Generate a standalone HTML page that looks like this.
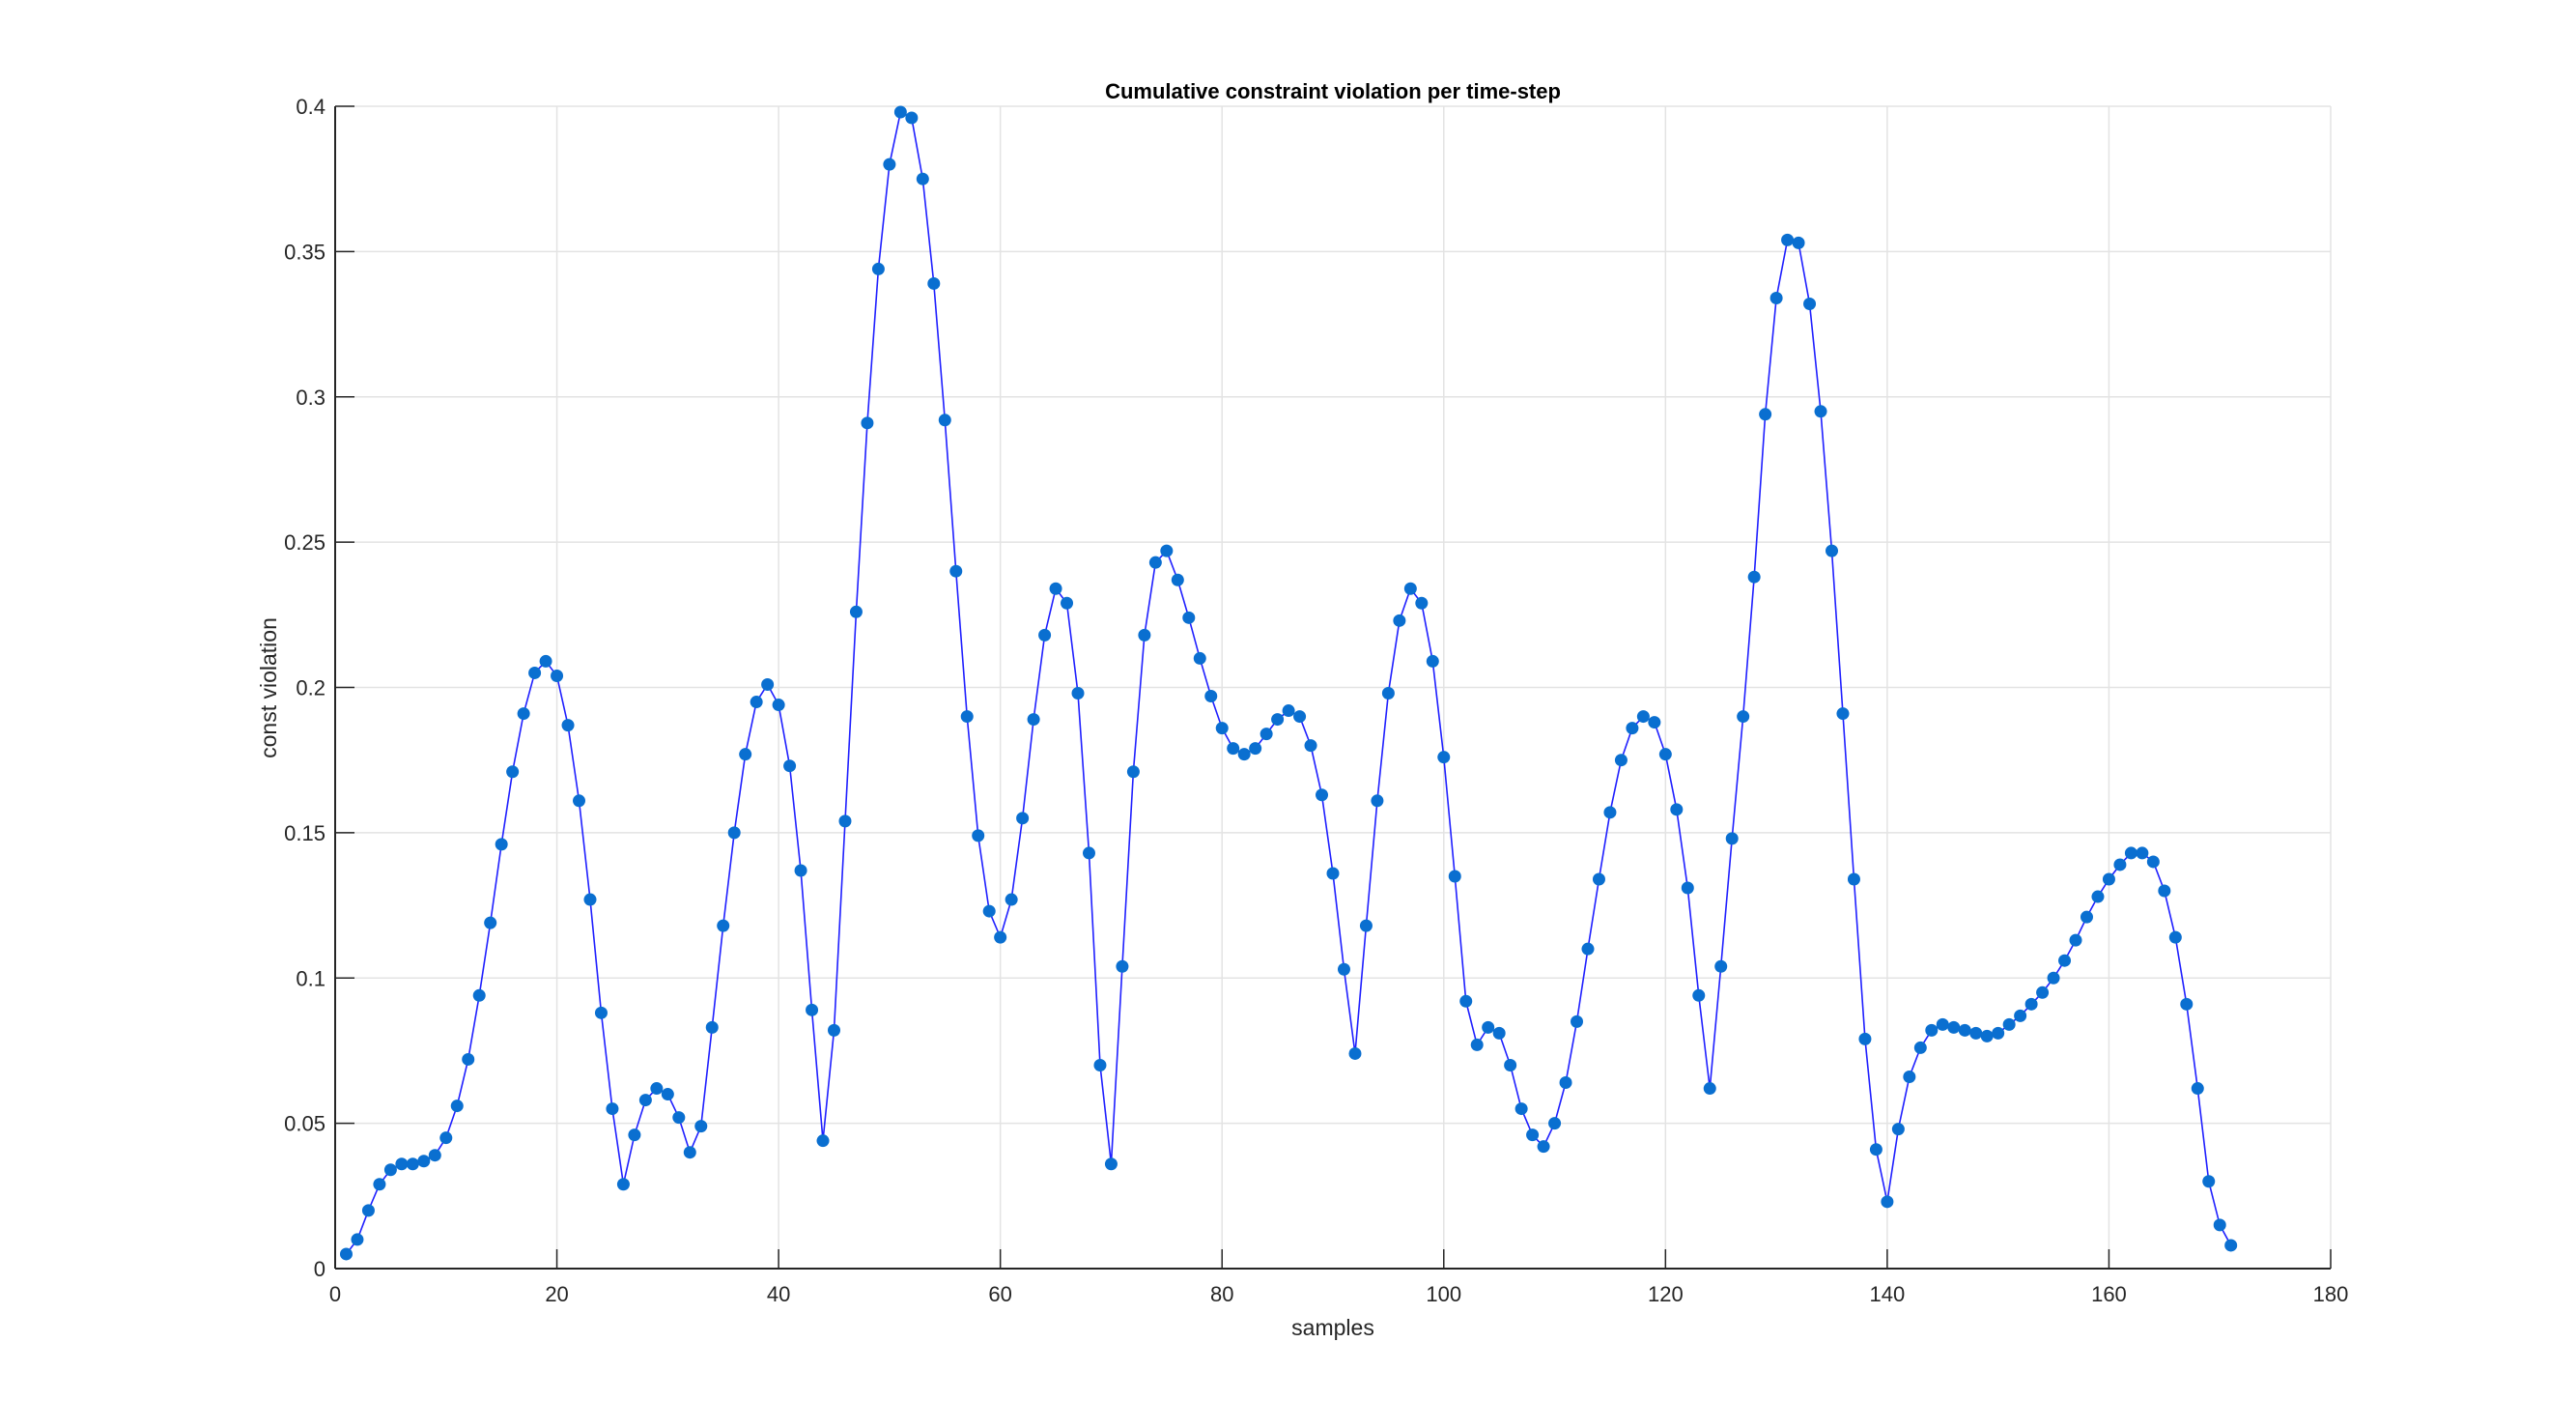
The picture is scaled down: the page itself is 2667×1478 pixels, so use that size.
<!DOCTYPE html>
<html><head><meta charset="utf-8"><style>
html,body{margin:0;padding:0;background:#fff;}
svg{display:block;font-family:"Liberation Sans",Arial,sans-serif;}
</style></head><body>
<svg id="chart" width="2667" height="1478" viewBox="0 0 2667 1478" xmlns="http://www.w3.org/2000/svg">
<rect width="2667" height="1478" fill="#fff"/>
<g id="grid"></g>
<g id="axes"></g>
<g id="series"></g>
<text x="1380" y="102" text-anchor="middle" font-size="22" font-weight="bold" fill="#000">Cumulative constraint violation per time-step</text>
<text x="1380" y="1382" text-anchor="middle" font-size="23" fill="#262626">samples</text>
<text transform="translate(286,712) rotate(-90)" text-anchor="middle" font-size="23" fill="#262626">const violation</text>
</svg>
<script>
const yValues=[0.005,0.010,0.020,0.029,0.034,0.036,0.036,0.037,0.039,0.045,0.056,0.072,0.094,0.119,0.146,0.171,0.191,0.205,0.209,0.204,0.187,0.161,0.127,0.088,0.055,0.029,0.046,0.058,0.062,0.060,0.052,0.040,0.049,0.083,0.118,0.150,0.177,0.195,0.201,0.194,0.173,0.137,0.089,0.044,0.082,0.154,0.226,0.291,0.344,0.380,0.398,0.396,0.375,0.339,0.292,0.240,0.190,0.149,0.123,0.114,0.127,0.155,0.189,0.218,0.234,0.229,0.198,0.143,0.070,0.036,0.104,0.171,0.218,0.243,0.247,0.237,0.224,0.210,0.197,0.186,0.179,0.177,0.179,0.184,0.189,0.192,0.190,0.180,0.163,0.136,0.103,0.074,0.118,0.161,0.198,0.223,0.234,0.229,0.209,0.176,0.135,0.092,0.077,0.083,0.081,0.070,0.055,0.046,0.042,0.050,0.064,0.085,0.110,0.134,0.157,0.175,0.186,0.190,0.188,0.177,0.158,0.131,0.094,0.062,0.104,0.148,0.190,0.238,0.294,0.334,0.354,0.353,0.332,0.295,0.247,0.191,0.134,0.079,0.041,0.023,0.048,0.066,0.076,0.082,0.084,0.083,0.082,0.081,0.080,0.081,0.084,0.087,0.091,0.095,0.100,0.106,0.113,0.121,0.128,0.134,0.139,0.143,0.143,0.140,0.130,0.114,0.091,0.062,0.030,0.015,0.008];
const xTicks=[0,20,40,60,80,100,120,140,160,180];
const yTicks=[0,0.05,0.1,0.15,0.2,0.25,0.3,0.35,0.4];
const yTickLabels=["0","0.05","0.1","0.15","0.2","0.25","0.3","0.35","0.4"];

const L=347,R=2413,T=110,B=1313;
const X=v=>L+(v-0)/(180-0)*(R-L);
const Y=v=>B-(v-0)/(0.4-0)*(B-T);
const NS="http://www.w3.org/2000/svg";
function mk(tag,attrs,parent){const e=document.createElementNS(NS,tag);for(const k in attrs)e.setAttribute(k,attrs[k]);parent.appendChild(e);return e;}
const grid=document.getElementById('grid'),axes=document.getElementById('axes'),series=document.getElementById('series');
xTicks.forEach(t=>{
  const g=mk('line',{x1:X(t),x2:X(t),y1:T,y2:B,stroke:'#e3e3e3','stroke-width':1.5},grid);
  
  
  const tk=mk('line',{x1:X(t),x2:X(t),y1:B,y2:B-20,stroke:'#262626','stroke-width':1.5},axes);
  
  
  const tx=mk('text',{x:X(t),y:B+34,'text-anchor':'middle','font-size':22,fill:'#262626'},axes);
  tx.textContent=String(t);
  
  
});
yTicks.forEach((t,i)=>{
  const g=mk('line',{x1:L,x2:R,y1:Y(t),y2:Y(t),stroke:'#e3e3e3','stroke-width':1.5},grid);
  
  
  const tk=mk('line',{x1:L,x2:L+20,y1:Y(t),y2:Y(t),stroke:'#262626','stroke-width':1.5},axes);
  
  
  const tx=mk('text',{x:L-10,y:Y(t)+8,'text-anchor':'end','font-size':22,fill:'#262626'},axes);
  tx.textContent=yTickLabels[i];
  
  
});
const xa=mk('line',{x1:L,x2:R,y1:B,y2:B,stroke:'#262626','stroke-width':2},axes);


const ya=mk('line',{x1:L,x2:L,y1:T,y2:B,stroke:'#262626','stroke-width':2},axes);


const pts=yValues.map((v,i)=>X(i+1)+','+Y(v)).join(' ');
const pl=mk('polyline',{points:pts,fill:'none',stroke:'#1f1fff','stroke-width':1.6},series);


yValues.forEach((v,i)=>{
  const c=mk('circle',{cx:X(i+1),cy:Y(v),r:6.5,fill:'#0a6fd0'},series);
  
  
});
</script>
</body></html>
